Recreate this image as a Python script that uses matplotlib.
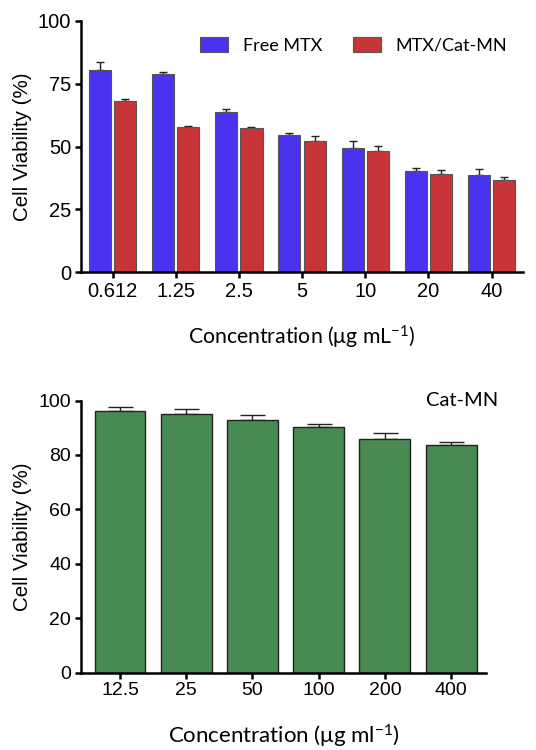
import matplotlib
matplotlib.use("Agg")
import matplotlib.pyplot as plt
import numpy as np

# top panel: MTX
conc_top = ["0.612", "1.25", "2.5", "5", "10", "20", "40"]
free_mtx = [80.3, 78.8, 63.9, 54.6, 49.3, 40.4, 38.8]
free_mtx_err = [3.4, 0.8, 1.2, 0.9, 2.9, 0.9, 2.2]
mtx_catmn = [68.0, 57.9, 57.5, 52.2, 48.1, 39.0, 36.9]
mtx_catmn_err = [0.8, 0.2, 0.4, 1.9, 2.2, 1.8, 1.2]

# bottom panel: Cat-MN alone
conc_bottom = ["12.5", "25", "50", "100", "200", "400"]
catmn = [96.1, 95.2, 92.8, 90.2, 86.0, 83.5]
catmn_err = [1.6, 1.6, 1.8, 1.1, 2.2, 1.3]

tick_font = "Liberation Sans"
label_font = "Lato"
plt.rcParams["mathtext.fontset"] = "custom"
plt.rcParams["mathtext.rm"] = label_font
plt.rcParams["mathtext.it"] = label_font

def style_axes(ax, size):
    for s in ["top", "right"]:
        ax.spines[s].set_visible(False)
    for s in ["left", "bottom"]:
        ax.spines[s].set_linewidth(1.8)
    ax.tick_params(direction="out", length=4.5, width=1.8, labelsize=size, pad=2.5)
    for lab in ax.get_xticklabels() + ax.get_yticklabels():
        lab.set_fontfamily(tick_font)

fig = plt.figure(figsize=(5.36, 7.5), dpi=100)

ax1 = fig.add_axes([0.151, 0.637, 0.825, 0.335])
x = np.arange(len(conc_top))
w = 0.35
ax1.bar(x - 0.2, free_mtx, w, color="#4a33f0", edgecolor="#555555", linewidth=0.8,
        label="Free MTX", zorder=2)
ax1.bar(x + 0.2, mtx_catmn, w, color="#c83538", edgecolor="#555555", linewidth=0.8,
        label="MTX/Cat-MN", zorder=2)
ax1.errorbar(x - 0.2, free_mtx, yerr=[np.zeros(len(x)), free_mtx_err], fmt="none",
             ecolor="#222222", elinewidth=1.0, capsize=3.0, capthick=1.0, zorder=1)
ax1.errorbar(x + 0.2, mtx_catmn, yerr=[np.zeros(len(x)), mtx_catmn_err], fmt="none",
             ecolor="#222222", elinewidth=1.0, capsize=3.0, capthick=1.0, zorder=1)
ax1.set_xlim(-0.5, 6.5)
ax1.set_ylim(0, 100)
ax1.set_yticks([0, 25, 50, 75, 100])
ax1.set_xticks(x)
ax1.set_xticklabels(conc_top)
ax1.set_ylabel("Cell Viability (%)", fontsize=14.8, fontfamily=tick_font)
ax1.yaxis.set_label_coords(-0.111, 0.5)
ax1.set_xlabel(r"Concentration (μg mL$^{\mathrm{-1}}$)", fontsize=15.3, fontfamily=label_font)
ax1.xaxis.set_label_coords(0.5, -0.205)
style_axes(ax1, 14.5)
ax1.legend(loc="upper right", ncol=2, frameon=False, prop={"family": label_font, "size": 13},
           handlelength=1.55, handleheight=0.85, columnspacing=1.7, handletextpad=0.8,
           bbox_to_anchor=(1.0, 1.0))

ax2 = fig.add_axes([0.151, 0.103, 0.756, 0.363])
x2 = np.arange(len(conc_bottom))
ax2.bar(x2, catmn, 0.77, color="#478a52", edgecolor="#222222", linewidth=1.0, zorder=2)
ax2.errorbar(x2, catmn, yerr=[np.zeros(len(x2)), catmn_err], fmt="none",
             ecolor="#222222", elinewidth=1.0, capsize=9, capthick=1.0, zorder=1)
ax2.set_xlim(-0.59, 5.53)
ax2.set_ylim(0, 100)
ax2.set_yticks([0, 20, 40, 60, 80, 100])
ax2.set_xticks(x2)
ax2.set_xticklabels(conc_bottom)
ax2.set_ylabel("Cell Viability (%)", fontsize=14.8, fontfamily=tick_font)
ax2.yaxis.set_label_coords(-0.121, 0.5)
ax2.set_xlabel(r"Concentration (μg ml$^{\mathrm{-1}}$)", fontsize=16, fontfamily=label_font)
ax2.xaxis.set_label_coords(0.5, -0.185)
ax2.text(1.03, 1.0, "Cat-MN", transform=ax2.transAxes, ha="right", va="center",
         fontsize=14.5, fontfamily=label_font)
style_axes(ax2, 14)

fig.savefig("out.png", dpi=100)
